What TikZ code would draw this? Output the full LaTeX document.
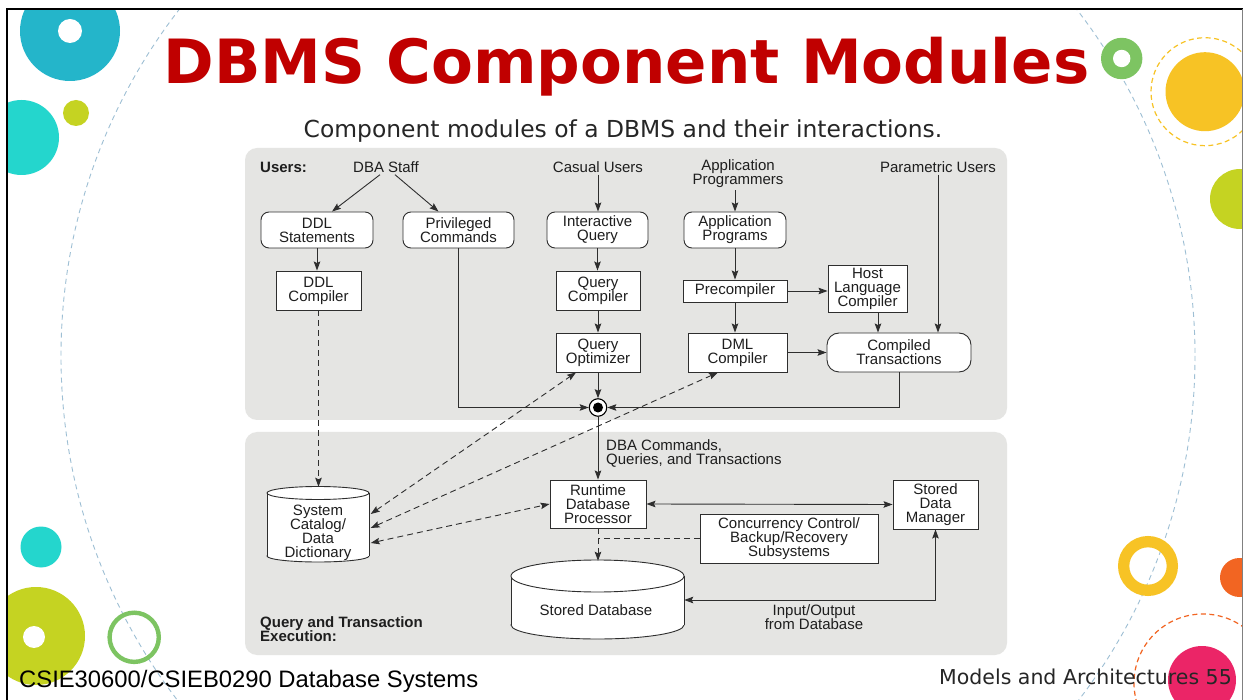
\documentclass[tikz,border=0pt]{standalone}
\usepackage{fontspec}
\setmainfont{Liberation Sans}
\newfontfamily\djv{DejaVu Sans}
\usetikzlibrary{arrows.meta,calc}
\definecolor{tealA}{HTML}{24B5CA}
\definecolor{turq}{HTML}{24D6CD}
\definecolor{limeA}{HTML}{C5D322}
\definecolor{greenA}{HTML}{7DC462}
\definecolor{yellowA}{HTML}{F7C325}
\definecolor{orangeA}{HTML}{F26522}
\definecolor{magentaA}{HTML}{EB2567}
\definecolor{dashblue}{HTML}{9EBFD4}
\definecolor{titlered}{HTML}{C00000}
\definecolor{panel}{HTML}{E5E5E3}
\definecolor{ln}{HTML}{2E2E2E}
\definecolor{txt}{HTML}{1E1E1E}
\definecolor{foot}{HTML}{262626}
\tikzset{
  diag/.style={font=\fontsize{15}{14}\selectfont, text=txt},
  rbox/.style={draw=ln, fill=white, rounded corners=8, line width=0.9, align=center, inner sep=0, diag},
  sbox/.style={draw=ln, fill=white, line width=0.9, align=center, inner sep=0, diag},
  lbl/.style={align=center, inner sep=2, diag},
  lblb/.style={align=left, inner sep=2, font=\bfseries\fontsize{15}{14}\selectfont, text=txt},
  arr/.style={draw=ln, line width=0.9, -{Stealth[length=9pt,width=6.5pt,inset=1.5pt]}},
  biarr/.style={draw=ln, line width=0.9, {Stealth[length=9pt,width=6.5pt,inset=1.5pt]}-{Stealth[length=9pt,width=6.5pt,inset=1.5pt]}},
  dsh/.style={dash pattern=on 6pt off 4pt},
  cylst/.style={draw=ln, fill=white, line width=0.9},
}
\begin{document}
\begin{tikzpicture}[x=1pt,y=-1pt]
\useasboundingbox (0,0) rectangle (1243,700);
\fill[white] (0,0) rectangle (1243,700);

% decorations
\begin{scope}
\clip (7,9) rectangle (1242,700);
\draw[dashblue, line width=0.9, dash pattern=on 5pt off 4pt] (628,356) circle (567);
\fill[tealA] (70,31) circle (50);
\fill[white] (70,31) circle (12);
\fill[turq] (21.5,137.5) circle (37.5);
\fill[limeA] (76,113) circle (13);
\fill[turq] (41,547) circle (20.5);
\fill[limeA] (36,636) circle (49);
\fill[white] (34,637) circle (11);
\draw[greenA, line width=4.4] (134.2,637.3) circle (24.6);
\fill[greenA] (1121.7,58.5) circle (20.7);
\fill[white] (1121.7,58.5) circle (8.7);
\fill[yellowA] (1205,91.7) circle (39.5);
\draw[yellowA, line width=1.2, dash pattern=on 5pt off 3.5pt] (1205,91.7) circle (54);
\fill[limeA] (1240,199) circle (30);
\draw[yellowA, line width=11.3] (1148,566) circle (24.35);
\fill[orangeA] (1239.5,577.5) circle (19.5);
\draw[orangeA, line width=1.2, dash pattern=on 5pt off 3.5pt] (1203,683) circle (69);
\fill[magentaA] (1202,680) circle (34);
\end{scope}
\draw[black, line width=2] (7,700) -- (7,9) -- (1243,9);
\draw[gray, line width=1] (1242,9) -- (1242,700);

% title texts
\node[anchor=base, inner sep=0, text=titlered, font=\djv\bfseries\fontsize{61}{70}\selectfont] (title) at (626.5,84) {DBMS Component Modules};
\node[anchor=base, inner sep=0, text=foot, font=\djv\fontsize{23.4}{28}\selectfont] (subtitle) at (623,138) {Component modules of a DBMS and their interactions.};
\node[anchor=base west, inner sep=0, text=black, font=\fontsize{23.8}{28}\selectfont] (footl) at (19,687) {CSIE30600/CSIEB0290 Database Systems};
\node[anchor=base east, inner sep=0, text=foot, font=\djv\fontsize{20.5}{24}\selectfont] (footr) at (1232,684) {Models and Architectures 55};

% panels
\fill[panel, rounded corners=12] (245,148) rectangle (1007,420);
\fill[panel, rounded corners=12] (245,432) rectangle (1007,655);

% upper labels
\node[lblb, anchor=west] (users) at (258,167) {Users:};
\node[lbl] (dba) at (386,167) {DBA Staff};
\node[lbl] (casual) at (598,167) {Casual Users};
\node[lbl] (appprog) at (738,174) {Application\\Programmers};
\node[lbl] (param) at (938,167) {Parametric Users};

% upper boxes
\node[rbox, minimum width=112, minimum height=36] (ddls) at (317,230) {DDL\\Statements};
\node[rbox, minimum width=111, minimum height=36] (priv) at (458.5,230) {Privileged\\Commands};
\node[rbox, minimum width=101, minimum height=36] (iq) at (597.5,230) {Interactive\\Query};
\node[rbox, minimum width=102, minimum height=36] (apps) at (735,230) {Application\\Programs};
\node[sbox, minimum width=85, minimum height=39] (ddlc) at (318.5,290.5) {DDL\\Compiler};
\node[sbox, minimum width=84, minimum height=39] (qc) at (598,290.5) {Query\\Compiler};
\node[sbox, minimum width=84, minimum height=39] (qo) at (598,352.5) {Query\\Optimizer};
\node[sbox, minimum width=104, minimum height=22] (pre) at (735,291) {Precompiler};
\node[sbox, minimum width=79, minimum height=47] (hlc) at (867.5,288.5) {Host\\Language\\Compiler};
\node[sbox, minimum width=99, minimum height=39] (dmlc) at (737.5,352.5) {DML\\Compiler};
\node[rbox, rounded corners=12, minimum width=144, minimum height=39] (ct) at (899,352.5) {Compiled\\Transactions};
\node[circle, draw=black, fill=white, line width=1.1, minimum size=17.5, inner sep=0] (junc) at (598,407.5) {};
\fill[black] (junc.center) circle (5);

% lower boxes
\node[sbox, minimum width=96, minimum height=48] (rdp) at (598,504) {Runtime\\Database\\Processor};
\node[sbox, minimum width=85, minimum height=49] (sdm) at (935.5,504.5) {Stored\\Data\\Manager};
\node[sbox, minimum width=178, minimum height=49] (cc) at (789,538.5) {Concurrency Control/\\Backup/Recovery\\Subsystems};

% stored database cylinder
\filldraw[cylst] (597.5,625) ellipse (86.5 and 14);
\fill[white] (511,576) rectangle (684,625);
\draw[draw=ln, line width=0.9] (511,576) -- (511,625) (684,576) -- (684,625);
\filldraw[cylst] (597.5,576) ellipse (86.5 and 16);
\node[inner sep=0, minimum width=173, minimum height=78] (sdb) at (597.5,600) {};
\node[lbl] (sdbt) at (596,610) {Stored Database};

% catalog cylinder
\filldraw[cylst] (318,556) ellipse (51 and 6);
\fill[white] (267,493) rectangle (369,556);
\draw[draw=ln, line width=0.9] (267,493) -- (267,556) (369,493) -- (369,556);
\filldraw[cylst] (318,493) ellipse (51 and 6.5);
\node[inner sep=0, minimum width=102, minimum height=75] (cat) at (318,524.5) {};
\node[lbl] (catt) at (318,532.5) {System\\Catalog/\\Data\\Dictionary};

% lower labels
\node[lbl, align=left, anchor=west] (dbacmd) at (604,453) {DBA Commands,\\Queries, and Transactions};
\node[lbl] (io) at (814,617) {Input/Output\\from Database};
\node[lblb, anchor=west] (qte) at (258,629.5) {Query and Transaction\\Execution:};

% connectors upper
\draw[arr] ([xshift=-6pt]dba.south) -- ([xshift=15pt]ddls.north);
\draw[arr] ([xshift=9pt]dba.south) -- ([xshift=-20pt]priv.north);
\draw[arr] (casual.south) -- (casual.south |- iq.north);
\draw[arr] (appprog.south -| apps.north) -- (apps.north);
\draw[arr] (param.south) -- (param.south |- ct.north);
\draw[arr] (ddls.south) -- (ddls.south |- ddlc.north);
\draw[arr] (iq.south) -- (iq.south |- qc.north);
\draw[arr] (qc.south) -- (qo.north);
\draw[arr] (qo.south) -- (junc.north);
\draw[arr] (apps.south) -- (pre.north);
\draw[arr] (pre.east) -- (pre.east -| hlc.west);
\draw[arr] (pre.south) -- (pre.south |- dmlc.north);
\draw[arr] ([xshift=10.5pt]hlc.south) -- ([xshift=10.5pt]hlc.south |- ct.north);
\draw[arr] (dmlc.east) -- (ct.west);
\draw[arr] (priv.south) |- (junc.west);
\draw[arr] (ct.south) |- (junc.east);
\draw[arr] (junc.south) -- (rdp.north);

% dashed connectors
\draw[arr, dsh] (ddlc.south) -- (ddlc.south |- cat.north);
\draw[biarr, dsh] ([yshift=10.5pt,xshift=1.5pt]cat.east) -- ([xshift=-22pt]qo.south);
\draw[biarr, dsh] ([yshift=-3.5pt,xshift=1.5pt]cat.east) -- ([xshift=-19.5pt]dmlc.south);
\draw[biarr, dsh] ([yshift=-18.5pt,xshift=1.5pt]cat.east) -- (rdp.west);
\draw[arr, dsh] (rdp.south) -- (rdp.south |- sdb.north);
\draw[draw=ln, line width=0.9, dsh] (cc.west) -- (cc.west -| rdp.south);

% lower solid connectors
\draw[biarr] (rdp.east) -- (sdm.west);
\draw[biarr] (sdb.east) -| (sdm.south);
\end{tikzpicture}
\end{document}
